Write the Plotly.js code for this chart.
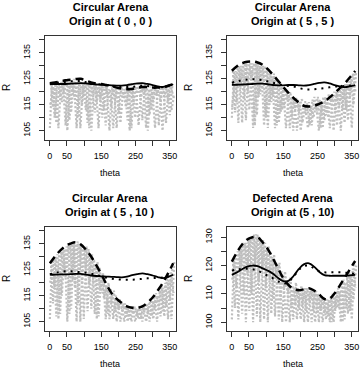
<!DOCTYPE html>
<html>
<head>
<meta charset="utf-8">
<script src="https://cdn.plot.ly/plotly-3.0.1.min.js"></script>
<style>html,body{margin:0;padding:0;background:#fff;}#chart{width:364px;height:371px;}</style>
</head>
<body>
<div id="chart"></div>
<script>
// ---------- data ----------
var panelTitles = [
  "Circular Arena<br>Origin at ( 0 , 0 )",
  "Circular Arena<br>Origin at ( 5 , 5 )",
  "Circular Arena<br>Origin at ( 5 , 10 )",
  "Defected Arena<br>Origin at (5 , 10)"
];
var xTickVals = [0, 50, 100, 150, 200, 250, 300, 350];
var xTickText = ["0", "50", "", "150", "", "250", "", "350"];
var yTickVals123 = [105, 110, 115, 120, 125, 130, 135, 140];
var yTickText123 = ["105", "", "115", "", "125", "", "135", ""];
var yTickVals4 = [100, 105, 110, 115, 120, 125, 130];
var yTickText4 = ["100", "", "110", "", "120", "", "130"];

// theta positions of the grey trajectories
var thetaA = [0,6,14,22,30,38,46,54,62,70,78,86,94,102,110,118,126,134,142,150,158,166,174,182,190,198,206,214,222,230,238,246,254,262,270,278,286,294,302,310,318,326,334,342,350,358];
var thetaB = [3,9,17,25,33,41,49,57,65,73,81,89,97,105,113,121,129,137,145,153,161,169,177,185,193,201,209,217,225,233,241,249,257,265,273,281,289,297,305,313,321,329,337,345,353,361];
var thetaC = [1,11,19,27,35,43,51,59,67,75,83,91,99,107,115,123,131,139,147,155,163,171,179,187,195,203,211,219,227,235,243,251,259,267,275,283,291,299,307,315,323,331,339,347,355,363];

// grey trajectories, panel 1 (origin 0,0)
var grey1A = [106,123,110,124,118,124,107,125,112,125,106,124,115,124,108,123,119,123,106,123,113,122,105,122,117,122,108,121,114,122,106,122,120,123,109,123,105,122,116,122,107,122,118,122,111,123];
var grey1B = [123,114,124,106,124,120,124,109,124,117,124,106,123,113,123,105,123,116,122,110,122,119,121,106,121,112,122,118,122,105,122,110,123,117,122,106,121,113,121,119,122,105,122,116,122,118];
var grey1C = [115,122,108,123,116,124,105,124,119,124,110,124,118,123,106,123,112,122,117,122,107,121,114,122,106,121,118,121,109,122,115,122,107,122,119,122,111,121,106,121,116,122,108,122,113,119];
// panel 2 (origin 5,5)
var grey2A = [110,128,116,130,108,131,120,131,106,131,118,130,107,129,115,126,106,124,112,121,106,119,110,117,105,116,108,114,106,114,110,115,105,115,109,117,106,118,112,120,105,122,113,124,106,127];
var grey2B = [128,112,130,122,131,109,131,125,131,111,130,121,130,106,128,118,125,108,122,114,120,106,118,113,117,105,115,111,116,107,118,112,117,106,118,110,119,105,120,114,122,108,124,118,127,120];
var grey2C = [114,128,108,130,117,131,113,131,107,131,119,130,110,129,116,127,107,124,113,121,117,120,105,118,112,117,116,116,107,117,113,118,106,118,111,119,116,120,107,121,113,123,109,125,115,128];
// panel 3 (origin 5,10)
var grey3A = [106,128,118,131,108,133,122,135,110,135,105,135,120,133,109,130,122,127,107,123,114,119,106,116,109,113,105,112,107,111,105,111,107,111,105,112,108,114,106,116,110,119,107,122,113,127];
var grey3B = [128,112,130,106,132,124,134,108,135,118,136,105,134,125,133,110,129,106,126,116,122,108,118,106,115,110,113,105,111,106,111,105,110,106,111,105,112,107,114,105,117,109,120,106,124,116];
var grey3C = [120,129,107,131,115,133,105,135,121,135,112,135,106,134,119,131,108,128,117,124,106,120,112,117,105,114,109,112,105,111,108,110,106,111,109,112,105,113,110,115,107,118,111,121,106,128];
// panel 4 (defected arena)
var grey4A = [101,122,112,126,103,128,117,130,100,131,114,129,101,126,115,123,102,120,108,117,100,114,105,112,101,112,106,112,100,112,104,111,100,109,103,108,100,110,104,112,100,115,105,118,101,121];
var grey4B = [122,105,125,118,128,100,130,110,131,102,130,119,128,100,125,108,121,101,118,112,115,100,113,106,112,101,112,104,111,100,111,103,109,100,108,102,109,100,111,105,113,101,116,104,119,112];
var grey4C = [115,123,101,126,110,128,104,130,120,131,100,129,112,127,103,124,116,121,100,118,110,116,101,114,105,113,100,112,107,111,100,110,104,109,101,108,100,109,105,111,100,114,103,117,108,120];

// summary curves
var thetaCurve = [0,15,30,45,60,75,90,105,120,135,150,165,180,195,210,225,240,255,270,285,300,315,330,345,360];
var solid1  = [123.0,123.0,123.0,123.0,123.1,123.2,123.3,123.2,123.0,122.8,122.7,122.6,122.5,122.4,122.4,122.6,122.9,123.2,123.3,123.0,122.6,122.1,121.9,122.3,122.9];
var dashed1 = [123.3,123.6,124.0,124.4,124.6,124.9,125.0,124.3,123.6,123.2,123.0,122.6,122.2,121.6,121.2,121.0,121.1,121.5,121.8,121.8,121.6,121.6,121.7,122.3,123.0];
var dotted1 = [123.2,123.4,123.6,123.8,124.0,124.1,124.1,123.7,123.2,123.0,122.8,122.5,122.3,122.0,121.8,121.8,121.9,122.2,122.4,122.2,122.0,121.9,121.8,122.3,123.0];
var solid2  = [122.7,122.7,122.8,122.9,123.0,123.1,123.1,122.9,122.6,122.5,122.5,122.6,122.6,122.5,122.4,122.6,123.0,123.4,123.6,123.2,122.6,122.1,121.8,122.1,122.6];
var dashed2 = [128.1,129.8,131.0,131.6,131.7,131.3,130.4,128.7,126.5,124.2,121.8,119.6,117.6,115.9,114.6,114.3,114.6,115.3,116.3,117.8,119.5,121.4,123.3,125.6,128.0];
var dotted2 = [123.5,124.0,124.5,124.7,124.8,124.7,124.5,124.0,123.5,123.0,122.5,122.2,122.0,121.5,121.0,120.9,121.0,121.2,121.4,121.7,122.0,122.1,122.2,122.4,122.6];
var solid3  = [123.1,123.1,123.2,123.2,123.3,123.4,123.4,123.1,122.8,122.6,122.5,122.4,122.3,122.2,122.1,122.4,122.9,123.3,123.6,123.3,122.8,122.2,121.8,122.3,123.1];
var dashed3 = [127.5,130.1,132.4,134.1,135.1,135.6,134.8,132.8,130.2,126.9,123.4,119.4,116.0,113.8,112.2,110.9,110.4,110.3,110.9,112.3,114.3,117.0,120.0,123.6,127.5];
var dotted3 = [123.3,123.8,124.2,124.4,124.4,124.3,124.1,123.9,123.5,123.0,122.5,122.0,121.6,121.3,121.2,121.2,121.2,121.3,121.5,121.7,121.8,121.9,122.0,122.4,123.0];
var solid4  = [116.7,117.6,118.7,119.6,120.0,119.8,119.0,118.2,117.1,115.6,114.5,114.6,116.3,118.7,120.4,120.8,119.6,117.8,116.6,116.4,116.4,116.4,116.4,116.5,116.7];
var dashed4 = [121.4,124.7,127.4,129.2,130.0,130.0,128.2,125.8,122.5,119.0,115.5,113.2,111.7,111.3,111.6,112.0,111.2,109.8,108.2,108.3,110.2,112.9,115.8,118.8,121.6];
var dotted4 = [118.2,118.6,118.8,118.9,118.7,118.2,117.3,116.4,115.5,114.4,113.6,114.2,116.0,118.4,119.8,120.0,119.0,118.0,117.6,117.6,117.6,117.6,117.5,117.3,117.0];

// ---------- build ----------
var panels = [
  {greys: [grey1A, grey1B, grey1C], solid: solid1, dashed: dashed1, dotted: dotted1},
  {greys: [grey2A, grey2B, grey2C], solid: solid2, dashed: dashed2, dotted: dotted2},
  {greys: [grey3A, grey3B, grey3C], solid: solid3, dashed: dashed3, dotted: dotted3},
  {greys: [grey4A, grey4B, grey4C], solid: solid4, dashed: dashed4, dotted: dotted4}
];
var greyThetas = [thetaA, thetaB, thetaC];
var traces = [];
panels.forEach(function (p, i) {
  var xa = i === 0 ? "x" : "x" + (i + 1);
  var ya = i === 0 ? "y" : "y" + (i + 1);
  p.greys.forEach(function (g, k) {
    traces.push({x: greyThetas[k], y: g, xaxis: xa, yaxis: ya, type: "scatter", mode: "lines",
      line: {color: "#bebebe", width: 2.2, dash: "2px,2px"}, hoverinfo: "skip", showlegend: false});
  });
  traces.push({x: thetaCurve, y: p.dotted, xaxis: xa, yaxis: ya, type: "scatter", mode: "lines",
    line: {color: "#000", width: 2, dash: "2px,5px", shape: "spline"}, showlegend: false});
  traces.push({x: thetaCurve, y: p.dashed, xaxis: xa, yaxis: ya, type: "scatter", mode: "lines",
    line: {color: "#000", width: 2.5, dash: "8px,5px", shape: "spline"}, showlegend: false});
  traces.push({x: thetaCurve, y: p.solid, xaxis: xa, yaxis: ya, type: "scatter", mode: "lines",
    line: {color: "#000", width: 1.8, shape: "spline"}, showlegend: false});
});

var W = 364, H = 371;
function px(v) { return v / W; }
function py(v) { return (H - v) / H; }
var boxes = [
  {l: 45, r: 176, t: 36, b: 140},
  {l: 227, r: 358, t: 36, b: 140},
  {l: 45, r: 176, t: 227, b: 331},
  {l: 227, r: 358, t: 227, b: 331}
];
var yRanges = [[101.4, 141.5], [101.4, 141.5], [101.4, 141.5], [96.9, 133.6]];
var tickFont = {family: "Liberation Sans, Arial, sans-serif", size: 9, color: "#000"};

var layout = {
  width: W, height: H,
  margin: {l: 0, r: 0, t: 0, b: 0},
  paper_bgcolor: "#fff", plot_bgcolor: "#fff",
  showlegend: false,
  annotations: []
};
boxes.forEach(function (b, i) {
  var sx = i === 0 ? "xaxis" : "xaxis" + (i + 1);
  var sy = i === 0 ? "yaxis" : "yaxis" + (i + 1);
  var yn = i === 0 ? "y" : "y" + (i + 1);
  var xn = i === 0 ? "x" : "x" + (i + 1);
  layout[sx] = {
    domain: [px(b.l), px(b.r)], anchor: yn, range: [-14.2, 368.2],
    tickvals: xTickVals, ticktext: xTickText, ticks: "outside", ticklen: 5, tickwidth: 1, tickcolor: "#333",
    showline: true, mirror: true, linecolor: "#333", linewidth: 1, showgrid: false, zeroline: false,
    tickfont: tickFont, ticklabelstandoff: 2, fixedrange: true
  };
  layout[sy] = {
    domain: [py(b.b), py(b.t)], anchor: xn, range: yRanges[i],
    tickvals: i === 3 ? yTickVals4 : yTickVals123, ticktext: i === 3 ? yTickText4 : yTickText123,
    ticks: "outside", ticklen: 5, tickwidth: 1, tickcolor: "#333", tickangle: -90,
    showline: true, mirror: true, linecolor: "#333", linewidth: 1, showgrid: false, zeroline: false,
    tickfont: tickFont, ticklabelstandoff: 5, fixedrange: true
  };
  var cx = (b.l + b.r) / 2;
  layout.annotations.push({
    text: "<b>" + panelTitles[i] + "</b>", xref: "paper", yref: "paper",
    x: px(cx), y: py(b.t - 22), xanchor: "center", yanchor: "middle", showarrow: false,
    font: {family: "Liberation Sans, Arial, sans-serif", size: 11, color: "#000"}
  });
  layout.annotations.push({
    text: "theta", xref: "paper", yref: "paper", x: px(cx), y: py(b.b + 33),
    xanchor: "center", yanchor: "middle", showarrow: false,
    font: {family: "Liberation Sans, Arial, sans-serif", size: 9, color: "#000"}
  });
  layout.annotations.push({
    text: "R", xref: "paper", yref: "paper", x: px(b.l - 39), y: py((b.t + b.b) / 2),
    xanchor: "center", yanchor: "middle", textangle: -90, showarrow: false,
    font: {family: "Liberation Sans, Arial, sans-serif", size: 10, color: "#000"}
  });
});

Plotly.newPlot("chart", traces, layout, {staticPlot: true, displayModeBar: false});
</script>
</body>
</html>
